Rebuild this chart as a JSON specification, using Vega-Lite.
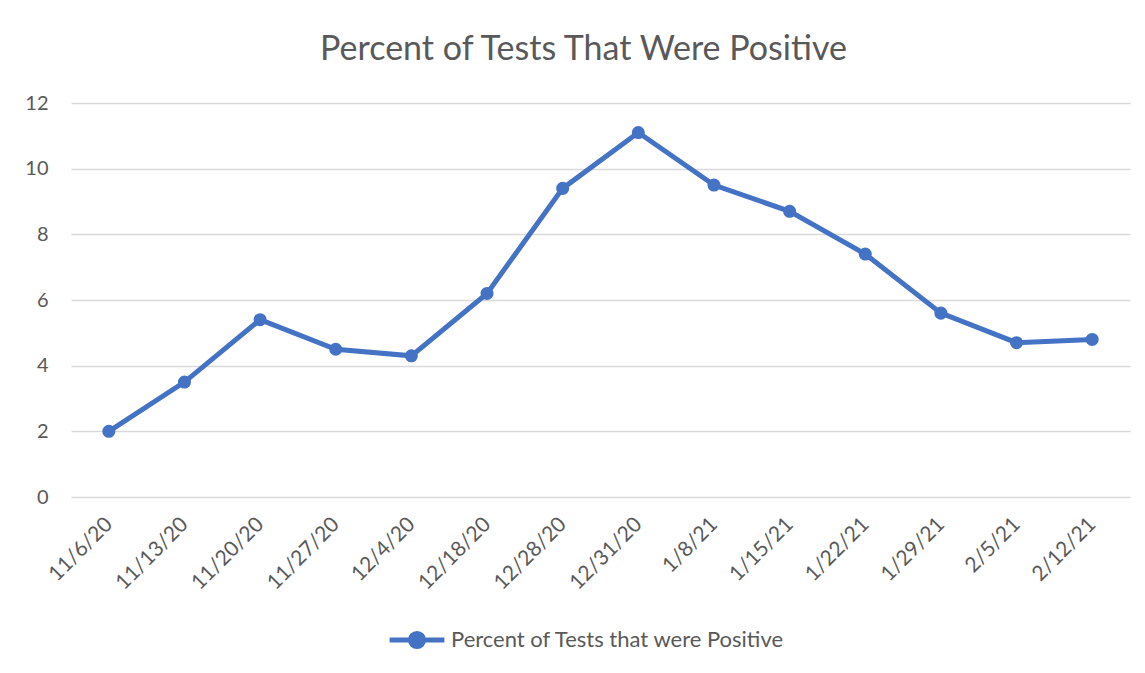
{
  "$schema": "https://vega.github.io/schema/vega-lite/v6.json",
  "width": 1059,
  "height": 394,
  "autosize": "none",
  "padding": {"left": 71, "top": 103, "right": 15, "bottom": 176},
  "background": "white",
  "title": {
    "text": "Percent of Tests That Were Positive",
    "font": "Lato",
    "fontSize": 34,
    "fontWeight": "normal",
    "color": "#595959",
    "anchor": "middle",
    "dx": -17,
    "offset": 26
  },
  "data": {
    "values": [
      {"date": "11/6/20", "value": 2.0, "series": "Percent of Tests that were Positive"},
      {"date": "11/13/20", "value": 3.5, "series": "Percent of Tests that were Positive"},
      {"date": "11/20/20", "value": 5.4, "series": "Percent of Tests that were Positive"},
      {"date": "11/27/20", "value": 4.5, "series": "Percent of Tests that were Positive"},
      {"date": "12/4/20", "value": 4.3, "series": "Percent of Tests that were Positive"},
      {"date": "12/18/20", "value": 6.2, "series": "Percent of Tests that were Positive"},
      {"date": "12/28/20", "value": 9.4, "series": "Percent of Tests that were Positive"},
      {"date": "12/31/20", "value": 11.1, "series": "Percent of Tests that were Positive"},
      {"date": "1/8/21", "value": 9.5, "series": "Percent of Tests that were Positive"},
      {"date": "1/15/21", "value": 8.7, "series": "Percent of Tests that were Positive"},
      {"date": "1/22/21", "value": 7.4, "series": "Percent of Tests that were Positive"},
      {"date": "1/29/21", "value": 5.6, "series": "Percent of Tests that were Positive"},
      {"date": "2/5/21", "value": 4.7, "series": "Percent of Tests that were Positive"},
      {"date": "2/12/21", "value": 4.8, "series": "Percent of Tests that were Positive"}
    ]
  },
  "mark": {
    "type": "line",
    "strokeWidth": 5,
    "point": {"filled": true, "size": 170, "opacity": 1}
  },
  "encoding": {
    "x": {
      "field": "date",
      "type": "nominal",
      "sort": null,
      "axis": {
        "title": null,
        "labelAngle": -45,
        "labelAlign": "right",
        "labelBaseline": "middle",
        "labelPadding": 24,
        "labelFont": "Lato",
        "labelFontSize": 21,
        "labelColor": "#595959",
        "labelLimit": 300,
        "ticks": false,
        "domain": false,
        "grid": false
      }
    },
    "y": {
      "field": "value",
      "type": "quantitative",
      "scale": {"domain": [0, 12], "nice": false},
      "axis": {
        "title": null,
        "values": [0, 2, 4, 6, 8, 10, 12],
        "labelFont": "Lato",
        "labelFontSize": 20,
        "labelColor": "#595959",
        "labelPadding": 23,
        "ticks": false,
        "domain": false,
        "grid": true,
        "gridColor": "#d9d9d9",
        "gridWidth": 1.3
      }
    },
    "color": {
      "field": "series",
      "type": "nominal",
      "scale": {"range": ["#4472C4"]},
      "legend": {
        "title": null,
        "orient": "none",
        "legendX": 316,
        "legendY": 507,
        "padding": 0,
        "labelFont": "Lato",
        "labelFontSize": 22,
        "labelColor": "#595959",
        "labelOffset": 4,
        "labelLimit": 600,
        "symbolType": "M -1 0 L 1 0 M -0.24 0 A 0.24 0.24 0 1 1 0.24 0 A 0.24 0.24 0 1 1 -0.24 0 Z",
        "symbolSize": 3000,
        "symbolStrokeWidth": 5,
        "symbolFillColor": "#4472C4",
        "symbolStrokeColor": "#4472C4"
      }
    }
  },
  "config": {
    "view": {"stroke": null}
  }
}
